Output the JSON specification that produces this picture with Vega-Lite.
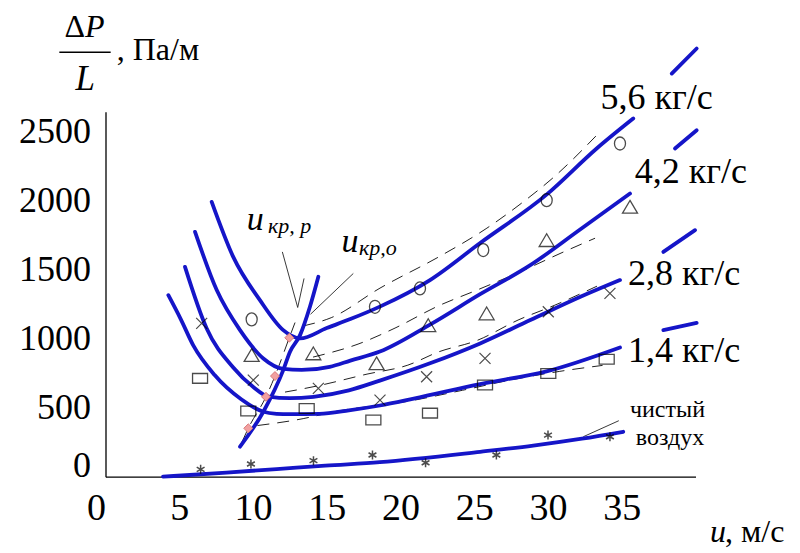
{
  "$schema": "https://vega.github.io/schema/vega-lite/v6.json",
  "width": 590,
  "height": 365,
  "autosize": "none",
  "padding": {"left": 105.5, "top": 111.7, "right": 104.5, "bottom": 76.3},
  "background": "white",
  "config": {"view": {"stroke": null}, "axis": {"grid": false}, "font": "'Liberation Serif', 'Times New Roman', 'DejaVu Serif', serif"},
  "datasets": {
    "curves": [
      {"s": "c56a", "u": 7.2, "p": 1988}, {"s": "c56a", "u": 8.66, "p": 1590}, {"s": "c56a", "u": 10.47, "p": 1277}, {"s": "c56a", "u": 12.05, "p": 1060}, {"s": "c56a", "u": 12.6, "p": 1020}, {"s": "c56a", "u": 13.19, "p": 1000}, {"s": "c56a", "u": 15.0, "p": 1075}, {"s": "c56a", "u": 16.6, "p": 1140}, {"s": "c56a", "u": 18.6, "p": 1230}, {"s": "c56a", "u": 22.0, "p": 1422}, {"s": "c56a", "u": 25.4, "p": 1690}, {"s": "c56a", "u": 29.9, "p": 2040}, {"s": "c56a", "u": 33.3, "p": 2374}, {"s": "c56a", "u": 35.78, "p": 2591},
      {"s": "c56b", "u": 38.39, "p": 2916}, {"s": "c56b", "u": 40.08, "p": 3097},
      {"s": "c42a", "u": 6.07, "p": 1771}, {"s": "c42a", "u": 7.54, "p": 1350}, {"s": "c42a", "u": 9.12, "p": 1060}, {"s": "c42a", "u": 10.7, "p": 855}, {"s": "c42a", "u": 12.05, "p": 780}, {"s": "c42a", "u": 13.3, "p": 772}, {"s": "c42a", "u": 15.2, "p": 795}, {"s": "c42a", "u": 16.6, "p": 840}, {"s": "c42a", "u": 18.6, "p": 905}, {"s": "c42a", "u": 22.0, "p": 1100}, {"s": "c42a", "u": 25.4, "p": 1320}, {"s": "c42a", "u": 28.8, "p": 1530}, {"s": "c42a", "u": 32.2, "p": 1790}, {"s": "c42a", "u": 35.56, "p": 2048},
      {"s": "c42b", "u": 38.61, "p": 2374}, {"s": "c42b", "u": 40.08, "p": 2506},
      {"s": "c28a", "u": 5.39, "p": 1518}, {"s": "c28a", "u": 6.86, "p": 1072}, {"s": "c28a", "u": 8.66, "p": 790}, {"s": "c28a", "u": 10.0, "p": 650}, {"s": "c28a", "u": 11.04, "p": 580}, {"s": "c28a", "u": 12.5, "p": 568}, {"s": "c28a", "u": 14.1, "p": 578}, {"s": "c28a", "u": 16.5, "p": 625}, {"s": "c28a", "u": 18.6, "p": 695}, {"s": "c28a", "u": 22.0, "p": 820}, {"s": "c28a", "u": 25.4, "p": 964}, {"s": "c28a", "u": 28.8, "p": 1133}, {"s": "c28a", "u": 32.2, "p": 1301}, {"s": "c28a", "u": 34.88, "p": 1422},
      {"s": "c28b", "u": 37.82, "p": 1626}, {"s": "c28b", "u": 39.97, "p": 1783},
      {"s": "c14a", "u": 4.26, "p": 1313}, {"s": "c14a", "u": 5.1, "p": 1140}, {"s": "c14a", "u": 5.95, "p": 950}, {"s": "c14a", "u": 7.4, "p": 735}, {"s": "c14a", "u": 9.2, "p": 560}, {"s": "c14a", "u": 10.7, "p": 470}, {"s": "c14a", "u": 11.6, "p": 455}, {"s": "c14a", "u": 12.5, "p": 452}, {"s": "c14a", "u": 14.5, "p": 455}, {"s": "c14a", "u": 16.5, "p": 480}, {"s": "c14a", "u": 18.6, "p": 515}, {"s": "c14a", "u": 20.9, "p": 565}, {"s": "c14a", "u": 25.4, "p": 670}, {"s": "c14a", "u": 29.9, "p": 762}, {"s": "c14a", "u": 34.88, "p": 935},
      {"s": "c14b", "u": 37.82, "p": 1060}, {"s": "c14b", "u": 40.08, "p": 1113},
      {"s": "c0", "u": 3.9, "p": 0}, {"s": "c0", "u": 8.2, "p": 30}, {"s": "c0", "u": 11.6, "p": 55}, {"s": "c0", "u": 14.9, "p": 80}, {"s": "c0", "u": 18.6, "p": 105}, {"s": "c0", "u": 25.4, "p": 180}, {"s": "c0", "u": 29.0, "p": 225}, {"s": "c0", "u": 32.3, "p": 275}, {"s": "c0", "u": 35.1, "p": 325},
      {"s": "kr", "u": 9.12, "p": 217}, {"s": "kr", "u": 10.7, "p": 470}, {"s": "kr", "u": 12.05, "p": 771}, {"s": "kr", "u": 12.51, "p": 904}, {"s": "kr", "u": 13.19, "p": 1024}, {"s": "kr", "u": 13.86, "p": 1229}, {"s": "kr", "u": 14.43, "p": 1446}
    ],
    "dashes": [
      {"s": "d56", "u": 13.4, "p": 1090}, {"s": "d56", "u": 15.3, "p": 1150}, {"s": "d56", "u": 18.61, "p": 1364}, {"s": "d56", "u": 22.68, "p": 1595}, {"s": "d56", "u": 25.86, "p": 1798}, {"s": "d56", "u": 28.3, "p": 1986}, {"s": "d56", "u": 30.47, "p": 2174}, {"s": "d56", "u": 33.52, "p": 2494},
      {"s": "d42", "u": 14.07, "p": 865}, {"s": "d42", "u": 17.12, "p": 959}, {"s": "d42", "u": 19.63, "p": 1075}, {"s": "d42", "u": 22.54, "p": 1234}, {"s": "d42", "u": 25.19, "p": 1350}, {"s": "d42", "u": 27.9, "p": 1472}, {"s": "d42", "u": 31.02, "p": 1624}, {"s": "d42", "u": 33.19, "p": 1725},
      {"s": "d28", "u": 12.17, "p": 612}, {"s": "d28", "u": 14.34, "p": 656}, {"s": "d28", "u": 17.73, "p": 742}, {"s": "d28", "u": 20.5, "p": 807}, {"s": "d28", "u": 22.54, "p": 901}, {"s": "d28", "u": 25.25, "p": 988}, {"s": "d28", "u": 27.97, "p": 1133}, {"s": "d28", "u": 30.47, "p": 1241}, {"s": "d28", "u": 33.32, "p": 1378},
      {"s": "d14", "u": 10.3, "p": 370}, {"s": "d14", "u": 13.4, "p": 420}, {"s": "d14", "u": 15.5, "p": 470}, {"s": "d14", "u": 20.5, "p": 545}, {"s": "d14", "u": 24.2, "p": 625}, {"s": "d14", "u": 27.5, "p": 700}, {"s": "d14", "u": 30.8, "p": 762}, {"s": "d14", "u": 33.7, "p": 805},
      {"s": "dkr", "u": 9.25, "p": 250}, {"s": "dkr", "u": 9.68, "p": 350}, {"s": "dkr", "u": 10.88, "p": 578}, {"s": "dkr", "u": 11.49, "p": 728}, {"s": "dkr", "u": 12.46, "p": 1005}, {"s": "dkr", "u": 12.85, "p": 1115}
    ],
    "thin": [
      {"s": "vL", "u": 11.99, "p": 1626}, {"s": "vL", "u": 13.03, "p": 1224},
      {"s": "vR", "u": 13.46, "p": 1434}, {"s": "vR", "u": 13.03, "p": 1224},
      {"s": "ko", "u": 16.8, "p": 1470}, {"s": "ko", "u": 13.9, "p": 1175},
      {"s": "air", "u": 32.39, "p": 289}, {"s": "air", "u": 34.8, "p": 405}
    ],
    "pts": [
      {"m": "o", "u": 9.91, "p": 1138}, {"m": "o", "u": 18.27, "p": 1229}, {"m": "o", "u": 21.32, "p": 1362}, {"m": "o", "u": 25.61, "p": 1639}, {"m": "o", "u": 29.91, "p": 2000}, {"m": "o", "u": 34.88, "p": 2410},
      {"m": "t", "u": 9.91, "p": 880}, {"m": "t", "u": 14.09, "p": 892}, {"m": "t", "u": 18.38, "p": 820}, {"m": "t", "u": 21.88, "p": 1096}, {"m": "t", "u": 25.84, "p": 1181}, {"m": "t", "u": 29.91, "p": 1711}, {"m": "t", "u": 35.56, "p": 1952},
      {"m": "x", "u": 6.52, "p": 1109}, {"m": "x", "u": 10.02, "p": 699}, {"m": "x", "u": 14.43, "p": 639}, {"m": "x", "u": 18.61, "p": 554}, {"m": "x", "u": 21.77, "p": 723}, {"m": "x", "u": 25.73, "p": 856}, {"m": "x", "u": 30.02, "p": 1193}, {"m": "x", "u": 34.2, "p": 1326},
      {"m": "q", "u": 6.41, "p": 711}, {"m": "q", "u": 9.68, "p": 475}, {"m": "q", "u": 13.64, "p": 494}, {"m": "q", "u": 18.16, "p": 410}, {"m": "q", "u": 22.0, "p": 460}, {"m": "q", "u": 25.73, "p": 663}, {"m": "q", "u": 30.02, "p": 747}, {"m": "q", "u": 33.98, "p": 849},
      {"m": "a", "u": 6.45, "p": 53}, {"m": "a", "u": 9.86, "p": 92}, {"m": "a", "u": 14.1, "p": 116}, {"m": "a", "u": 18.1, "p": 157}, {"m": "a", "u": 21.7, "p": 101}, {"m": "a", "u": 26.5, "p": 157}, {"m": "a", "u": 30.0, "p": 301}, {"m": "a", "u": 34.2, "p": 289},
      {"m": "d", "u": 12.46, "p": 1005}, {"m": "d", "u": 11.49, "p": 728}, {"m": "d", "u": 10.88, "p": 578}, {"m": "d", "u": 9.68, "p": 350}
    ],
    "labels": [
      {"k": "kg", "t": "5,6 кг/с", "u": 37.37, "p": 2663},
      {"k": "kg", "t": "4,2 кг/с", "u": 39.68, "p": 2121},
      {"k": "kg", "t": "2,8 кг/с", "u": 39.23, "p": 1386},
      {"k": "kg", "t": "1,4 кг/с", "u": 39.23, "p": 831},
      {"k": "air", "t": "чистый", "u": 38.1, "p": 432},
      {"k": "air", "t": "воздух", "u": 38.27, "p": 232},
      {"k": "ubig", "t": "u", "u": 9.57, "p": 1783},
      {"k": "ubig", "t": "u", "u": 16.0, "p": 1626},
      {"k": "usub", "t": "кр, р", "u": 11.02, "p": 1761},
      {"k": "usub", "t": "кр,о", "u": 17.19, "p": 1602},
      {"k": "xu", "t": "u", "u": 40.98, "p": -470},
      {"k": "xunit", "t": ", м/с", "u": 42.0, "p": -470},
      {"k": "yd", "t": "Δ", "u": -1.39, "p": 3180},
      {"k": "yp", "t": "P", "u": -1.39, "p": 3180},
      {"k": "yl", "t": "L", "u": -1.37, "p": 2800},
      {"k": "yunit", "t": ", Па/м", "u": 0.76, "p": 3012}
    ],
    "bar": [{"u": -3.13, "u2": 0.35, "p": 3070}],
    "xt": [{"u": 5}, {"u": 10}, {"u": 15}, {"u": 20}, {"u": 25}, {"u": 30}, {"u": 35}, {"u": 40}],
    "yt": [{"p": 500}, {"p": 1000}, {"p": 1500}, {"p": 2000}, {"p": 2500}]
  },
  "encoding": {
    "x": {
      "field": "u", "type": "quantitative",
      "scale": {"domain": [0, 40], "nice": false, "zero": false},
      "axis": {
        "title": null, "values": [0, 5, 10, 15, 20, 25, 30, 35], "ticks": false, "tickSize": 0, "format": "d",
        "labelFont": "'Liberation Serif', 'Times New Roman', 'DejaVu Serif', serif", "labelFontSize": 38, "labelColor": "black", "labelPadding": 13,
        "labelBaseline": "top",
        "labelAlign": {"condition": {"test": "datum.value === 0", "value": "right"}, "value": "center"},
        "labelFlush": false, "labelOverlap": false, "labelBound": false,
        "domainColor": "black", "domainWidth": 1.3
      }
    },
    "y": {
      "field": "p", "type": "quantitative",
      "scale": {"domain": [0, 2640], "nice": false, "zero": false},
      "axis": {
        "title": null, "values": [0, 500, 1000, 1500, 2000, 2500], "ticks": false, "tickSize": 0, "format": "d",
        "labelFont": "'Liberation Serif', 'Times New Roman', 'DejaVu Serif', serif", "labelFontSize": 36, "labelColor": "black", "labelPadding": 15,
        "labelBaseline": {"condition": {"test": "datum.value === 0", "value": "alphabetic"}, "value": "middle"},
        "labelFlush": false, "labelOverlap": false, "labelBound": false,
        "domainColor": "black", "domainWidth": 1.3
      }
    }
  },
  "layer": [
    {
      "data": {"name": "xt"},
      "mark": {"type": "rule", "color": "black", "strokeWidth": 1.3},
      "encoding": {"y": {"datum": -63}, "y2": {"datum": 63}}
    },
    {
      "data": {"name": "yt"},
      "mark": {"type": "rule", "color": "black", "strokeWidth": 1.3},
      "encoding": {"x": {"datum": 0}, "x2": {"datum": 0.85}}
    },
    {
      "data": {"name": "dashes"},
      "mark": {"type": "line", "color": "#222222", "strokeWidth": 1, "strokeDash": [12, 8], "interpolate": "monotone"},
      "encoding": {"detail": {"field": "s"}}
    },
    {
      "data": {"name": "thin"},
      "mark": {"type": "line", "color": "#222222", "strokeWidth": 0.9},
      "encoding": {"detail": {"field": "s"}}
    },
    {
      "data": {"name": "curves"},
      "mark": {"type": "line", "color": "#1515c8", "strokeWidth": 3.8, "interpolate": "monotone", "strokeCap": "round"},
      "encoding": {"detail": {"field": "s"}}
    },
    {
      "data": {"name": "pts"},
      "transform": [{"filter": "datum.m === 'o'"}],
      "mark": {"type": "point", "shape": "M0,-1A0.85,1 0 1,1 0,1A0.85,1 0 1,1 0,-1Z", "size": 169, "filled": false, "color": "black", "strokeWidth": 1.3}
    },
    {
      "data": {"name": "pts"},
      "transform": [{"filter": "datum.m === 't'"}],
      "mark": {"type": "point", "shape": "M0,-0.85L1,0.85L-1,0.85Z", "size": 225, "filled": false, "color": "black", "strokeWidth": 1.3}
    },
    {
      "data": {"name": "pts"},
      "transform": [{"filter": "datum.m === 'x'"}],
      "mark": {"type": "point", "shape": "M-1,-1L1,1M1,-1L-1,1", "size": 121, "filled": false, "color": "black", "strokeWidth": 1.2}
    },
    {
      "data": {"name": "pts"},
      "transform": [{"filter": "datum.m === 'q'"}],
      "mark": {"type": "point", "shape": "M-1,-0.65H1V0.65H-1Z", "size": 225, "filled": false, "color": "black", "strokeWidth": 1.3}
    },
    {
      "data": {"name": "pts"},
      "transform": [{"filter": "datum.m === 'a'"}],
      "mark": {"type": "point", "shape": "M0,-1V1M-0.87,-0.5L0.87,0.5M-0.87,0.5L0.87,-0.5", "size": 81, "filled": false, "color": "black", "strokeWidth": 1.5}
    },
    {
      "data": {"name": "pts"},
      "transform": [{"filter": "datum.m === 'd'"}],
      "mark": {"type": "point", "shape": "diamond", "size": 80, "filled": true, "fill": "#f2a0a0", "stroke": "#d87878", "strokeWidth": 1, "opacity": 1}
    },
    {
      "data": {"name": "bar"},
      "mark": {"type": "rule", "color": "black", "strokeWidth": 1.5},
      "encoding": {"x2": {"field": "u2"}}
    },
    {
      "data": {"name": "labels"},
      "transform": [{"filter": "datum.k === 'kg'"}],
      "mark": {"type": "text", "font": "'Liberation Serif', 'Times New Roman', 'DejaVu Serif', serif", "color": "black", "fontSize": 36, "align": "center", "baseline": "alphabetic"},
      "encoding": {"text": {"field": "t"}}
    },
    {
      "data": {"name": "labels"},
      "transform": [{"filter": "datum.k === 'air'"}],
      "mark": {"type": "text", "font": "'Liberation Serif', 'Times New Roman', 'DejaVu Serif', serif", "color": "black", "fontSize": 24, "align": "center", "baseline": "alphabetic"},
      "encoding": {"text": {"field": "t"}}
    },
    {
      "data": {"name": "labels"},
      "transform": [{"filter": "datum.k === 'ubig'"}],
      "mark": {"type": "text", "font": "'Liberation Serif', 'Times New Roman', 'DejaVu Serif', serif", "color": "black", "fontSize": 34, "fontStyle": "italic", "align": "left", "baseline": "alphabetic"},
      "encoding": {"text": {"field": "t"}}
    },
    {
      "data": {"name": "labels"},
      "transform": [{"filter": "datum.k === 'usub'"}],
      "mark": {"type": "text", "font": "'Liberation Serif', 'Times New Roman', 'DejaVu Serif', serif", "color": "black", "fontSize": 22, "fontStyle": "italic", "align": "left", "baseline": "alphabetic"},
      "encoding": {"text": {"field": "t"}}
    },
    {
      "data": {"name": "labels"},
      "transform": [{"filter": "datum.k === 'xu' || datum.k === 'yp'"}],
      "mark": {"type": "text", "font": "'Liberation Serif', 'Times New Roman', 'DejaVu Serif', serif", "color": "black", "fontSize": 32, "fontStyle": "italic", "align": "left", "baseline": "alphabetic"},
      "encoding": {"text": {"field": "t"}}
    },
    {
      "data": {"name": "labels"},
      "transform": [{"filter": "datum.k === 'xunit' || datum.k === 'yunit'"}],
      "mark": {"type": "text", "font": "'Liberation Serif', 'Times New Roman', 'DejaVu Serif', serif", "color": "black", "fontSize": 32, "align": "left", "baseline": "alphabetic"},
      "encoding": {"text": {"field": "t"}}
    },
    {
      "data": {"name": "labels"},
      "transform": [{"filter": "datum.k === 'yd'"}],
      "mark": {"type": "text", "font": "'Liberation Serif', 'Times New Roman', 'DejaVu Serif', serif", "color": "black", "fontSize": 32, "align": "right", "baseline": "alphabetic"},
      "encoding": {"text": {"field": "t"}}
    },
    {
      "data": {"name": "labels"},
      "transform": [{"filter": "datum.k === 'yl'"}],
      "mark": {"type": "text", "font": "'Liberation Serif', 'Times New Roman', 'DejaVu Serif', serif", "color": "black", "fontSize": 35, "fontStyle": "italic", "align": "center", "baseline": "alphabetic"},
      "encoding": {"text": {"field": "t"}}
    }
  ]
}
